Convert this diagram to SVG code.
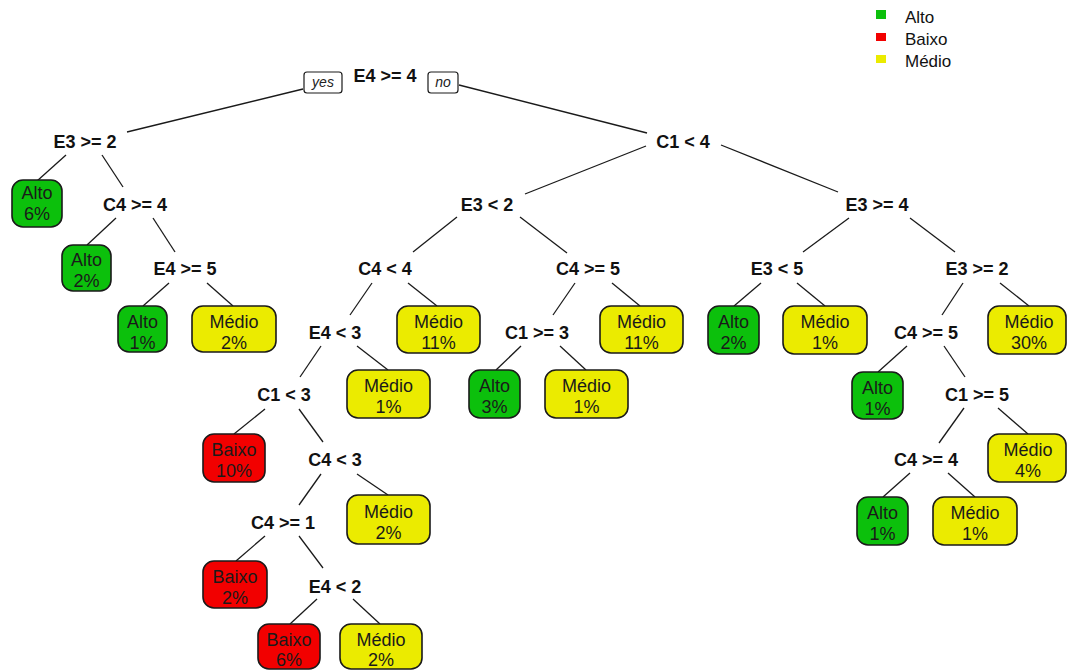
<svg xmlns="http://www.w3.org/2000/svg" width="1067" height="670" viewBox="0 0 1067 670">
  <style>
    .split { font-family: "Liberation Sans", Arial, sans-serif; font-size: 18px; font-weight: bold; fill: #111; text-anchor: middle; }
    .leaf text { font-family: "Liberation Sans", Arial, sans-serif; font-size: 18px; fill: #1a1a1a; text-anchor: middle; }
    .leaf rect { stroke: #1a1a1a; stroke-width: 1.6; }
    .alto { fill: #0cc00c; }
    .baixo { fill: #f20000; }
    .medio { fill: #ebeb00; }
    .edges line { stroke: #1a1a1a; stroke-width: 1.3; }
    .tag rect { fill: #fff; stroke: #1a1a1a; stroke-width: 1.2; }
    .tag text { font-family: "Liberation Sans", Arial, sans-serif; font-size: 14px; font-style: italic; fill: #222; text-anchor: middle; }
    .legend text { font-family: "Liberation Sans", Arial, sans-serif; font-size: 17px; fill: #111; }
  </style>
  <rect x="0" y="0" width="1067" height="670" fill="#fff"/>

  <!-- branches -->
  <g id="connectors" class="edges">
    <line x1="303" y1="89" x2="127" y2="132"/>
    <line x1="459" y1="85" x2="647" y2="133"/>
    <line x1="646" y1="146" x2="525" y2="194"/>
    <line x1="721" y1="145" x2="838" y2="192"/>
    <line x1="66" y1="155" x2="37" y2="181"/>
    <line x1="102" y1="155" x2="123" y2="187"/>
    <line x1="116" y1="218" x2="87" y2="245"/>
    <line x1="153" y1="218" x2="175" y2="252"/>
    <line x1="169" y1="283" x2="143" y2="306"/>
    <line x1="207" y1="283" x2="233" y2="306"/>
    <line x1="457" y1="217" x2="413" y2="252"/>
    <line x1="520" y1="217" x2="567" y2="253"/>
    <line x1="849" y1="218" x2="803" y2="252"/>
    <line x1="910" y1="218" x2="955" y2="252"/>
    <line x1="372" y1="283" x2="350" y2="315"/>
    <line x1="408" y1="283" x2="437" y2="306"/>
    <line x1="575" y1="283" x2="553" y2="315"/>
    <line x1="612" y1="283" x2="640" y2="306"/>
    <line x1="321" y1="346" x2="300" y2="377"/>
    <line x1="357" y1="346" x2="388" y2="370"/>
    <line x1="521" y1="346" x2="496" y2="370"/>
    <line x1="560" y1="346" x2="586" y2="370"/>
    <line x1="761" y1="283" x2="734" y2="306"/>
    <line x1="797" y1="283" x2="825" y2="306"/>
    <line x1="963" y1="283" x2="942" y2="315"/>
    <line x1="1000" y1="283" x2="1029" y2="306"/>
    <line x1="907" y1="346" x2="878" y2="372"/>
    <line x1="944" y1="346" x2="965" y2="377"/>
    <line x1="265" y1="409" x2="234" y2="434"/>
    <line x1="299" y1="409" x2="323" y2="442"/>
    <line x1="321" y1="474" x2="299" y2="505"/>
    <line x1="357" y1="474" x2="388" y2="495"/>
    <line x1="265" y1="536" x2="236" y2="561"/>
    <line x1="299" y1="536" x2="323" y2="568"/>
    <line x1="317" y1="599" x2="290" y2="624"/>
    <line x1="353" y1="599" x2="380" y2="624"/>
    <line x1="964" y1="408" x2="939" y2="443"/>
    <line x1="998" y1="408" x2="1028" y2="434"/>
    <line x1="910" y1="473" x2="883" y2="497"/>
    <line x1="948" y1="473" x2="975" y2="497"/>
  </g>

  <!-- branch direction tags at the root -->
  <g id="tag-yes" class="tag">
    <rect x="304" y="72" width="38" height="21" rx="3"/>
    <text x="323" y="87">yes</text>
  </g>
  <g id="tag-no" class="tag">
    <rect x="428" y="72" width="30" height="21" rx="3"/>
    <text x="443" y="87">no</text>
  </g>

  <!-- split nodes -->
  <g id="s-root"><text class="split" x="385" y="82">E4 &gt;= 4</text></g>
  <g id="s-e3ge2"><text class="split" x="85" y="148">E3 &gt;= 2</text></g>
  <g id="s-c1lt4"><text class="split" x="683" y="148">C1 &lt; 4</text></g>
  <g id="s-c4ge4"><text class="split" x="135" y="211">C4 &gt;= 4</text></g>
  <g id="s-e3lt2"><text class="split" x="487" y="211">E3 &lt; 2</text></g>
  <g id="s-e3ge4"><text class="split" x="877" y="211">E3 &gt;= 4</text></g>
  <g id="s-e4ge5"><text class="split" x="185" y="275">E4 &gt;= 5</text></g>
  <g id="s-c4lt4"><text class="split" x="385" y="275">C4 &lt; 4</text></g>
  <g id="s-c4ge5a"><text class="split" x="588" y="275">C4 &gt;= 5</text></g>
  <g id="s-e3lt5"><text class="split" x="777" y="275">E3 &lt; 5</text></g>
  <g id="s-e3ge2b"><text class="split" x="977" y="275">E3 &gt;= 2</text></g>
  <g id="s-e4lt3"><text class="split" x="335" y="339">E4 &lt; 3</text></g>
  <g id="s-c1ge3"><text class="split" x="537" y="339">C1 &gt;= 3</text></g>
  <g id="s-c4ge5b"><text class="split" x="926" y="339">C4 &gt;= 5</text></g>
  <g id="s-c1lt3"><text class="split" x="284" y="401">C1 &lt; 3</text></g>
  <g id="s-c1ge5"><text class="split" x="977" y="401">C1 &gt;= 5</text></g>
  <g id="s-c4lt3"><text class="split" x="335" y="466">C4 &lt; 3</text></g>
  <g id="s-c4ge4b"><text class="split" x="926" y="466">C4 &gt;= 4</text></g>
  <g id="s-c4ge1"><text class="split" x="283" y="529">C4 &gt;= 1</text></g>
  <g id="s-e4lt2"><text class="split" x="335" y="593">E4 &lt; 2</text></g>

  <!-- leaves -->
  <g id="l-alto-6" class="leaf"><rect class="alto" x="12" y="180" width="50" height="47" rx="11"/><text x="37" y="199">Alto</text><text x="37" y="220">6%</text></g>
  <g id="l-alto-2a" class="leaf"><rect class="alto" x="62" y="245" width="49" height="46" rx="11"/><text x="86.5" y="266">Alto</text><text x="86.5" y="287">2%</text></g>
  <g id="l-alto-1a" class="leaf"><rect class="alto" x="118" y="306" width="49" height="46" rx="11"/><text x="142.5" y="328">Alto</text><text x="142.5" y="349">1%</text></g>
  <g id="l-medio-2a" class="leaf"><rect class="medio" x="192" y="306" width="84" height="46" rx="11"/><text x="234" y="328">Médio</text><text x="234" y="349">2%</text></g>
  <g id="l-medio-11a" class="leaf"><rect class="medio" x="397" y="306" width="83" height="47" rx="11"/><text x="438.5" y="328">Médio</text><text x="438.5" y="349">11%</text></g>
  <g id="l-medio-11b" class="leaf"><rect class="medio" x="600" y="306" width="83" height="47" rx="11"/><text x="641.5" y="328">Médio</text><text x="641.5" y="349">11%</text></g>
  <g id="l-alto-2b" class="leaf"><rect class="alto" x="708" y="306" width="51" height="48" rx="11"/><text x="733.5" y="328">Alto</text><text x="733.5" y="349">2%</text></g>
  <g id="l-medio-1a" class="leaf"><rect class="medio" x="783" y="306" width="84" height="48" rx="11"/><text x="825" y="328">Médio</text><text x="825" y="349">1%</text></g>
  <g id="l-medio-30" class="leaf"><rect class="medio" x="988" y="306" width="78" height="48" rx="11"/><text x="1029" y="328">Médio</text><text x="1029" y="349">30%</text></g>
  <g id="l-medio-1b" class="leaf"><rect class="medio" x="347" y="370" width="83" height="48" rx="11"/><text x="388.5" y="392">Médio</text><text x="388.5" y="413">1%</text></g>
  <g id="l-alto-3" class="leaf"><rect class="alto" x="469" y="370" width="51" height="48" rx="11"/><text x="494.5" y="392">Alto</text><text x="494.5" y="413">3%</text></g>
  <g id="l-medio-1c" class="leaf"><rect class="medio" x="545" y="370" width="83" height="48" rx="11"/><text x="586.5" y="392">Médio</text><text x="586.5" y="413">1%</text></g>
  <g id="l-alto-1b" class="leaf"><rect class="alto" x="852" y="372" width="51" height="47" rx="11"/><text x="877.5" y="394">Alto</text><text x="877.5" y="415">1%</text></g>
  <g id="l-baixo-10" class="leaf"><rect class="baixo" x="203" y="434" width="62" height="48" rx="11"/><text x="234" y="456">Baixo</text><text x="234" y="477">10%</text></g>
  <g id="l-medio-4" class="leaf"><rect class="medio" x="988" y="434" width="78" height="48" rx="11"/><text x="1028" y="456">Médio</text><text x="1028" y="477">4%</text></g>
  <g id="l-medio-2b" class="leaf"><rect class="medio" x="347" y="495" width="83" height="49" rx="11"/><text x="388.5" y="518">Médio</text><text x="388.5" y="539">2%</text></g>
  <g id="l-alto-1c" class="leaf"><rect class="alto" x="857" y="497" width="51" height="48" rx="11"/><text x="882.5" y="519">Alto</text><text x="882.5" y="540">1%</text></g>
  <g id="l-medio-1d" class="leaf"><rect class="medio" x="933" y="497" width="84" height="48" rx="11"/><text x="975" y="519">Médio</text><text x="975" y="540">1%</text></g>
  <g id="l-baixo-2" class="leaf"><rect class="baixo" x="203" y="561" width="64" height="47" rx="11"/><text x="235" y="583">Baixo</text><text x="235" y="604">2%</text></g>
  <g id="l-baixo-6" class="leaf"><rect class="baixo" x="258" y="624" width="62" height="45" rx="11"/><text x="289" y="646">Baixo</text><text x="289" y="666">6%</text></g>
  <g id="l-medio-2c" class="leaf"><rect class="medio" x="340" y="624" width="82" height="45" rx="11"/><text x="381" y="646">Médio</text><text x="381" y="666">2%</text></g>

  <!-- legend -->
  <g id="legend" class="legend">
    <rect class="alto" x="876" y="10" width="10" height="9"/>
    <text x="905" y="23">Alto</text>
    <rect class="baixo" x="876" y="33" width="10" height="8"/>
    <text x="905" y="45">Baixo</text>
    <rect class="medio" x="876" y="55" width="10" height="8"/>
    <text x="905" y="67">Médio</text>
  </g>
</svg>
